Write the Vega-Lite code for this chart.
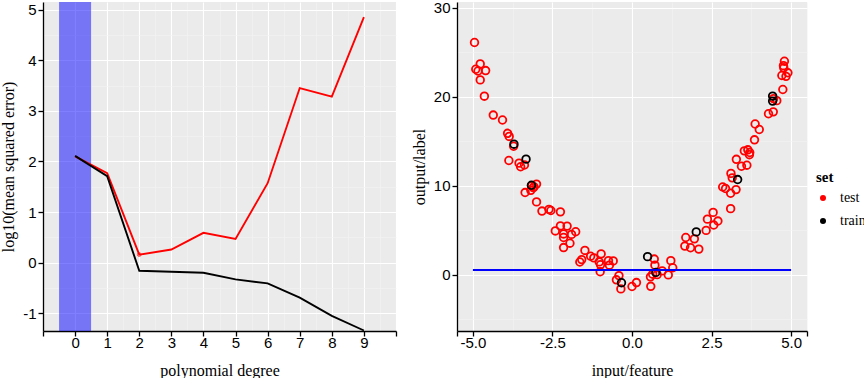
{
  "$schema": "https://vega.github.io/schema/vega-lite/v6.json",
  "padding": {"left": 0, "top": 0, "right": 0, "bottom": 0},
  "background": "white",
  "resolve": {"scale": {"color": "independent"}, "legend": {"color": "independent"}},
  "datasets": {
    "mse": [
      {"degree": 0, "set": "test", "mse": 2.1},
      {"degree": 1, "set": "test", "mse": 1.77},
      {"degree": 2, "set": "test", "mse": 0.16},
      {"degree": 3, "set": "test", "mse": 0.26},
      {"degree": 4, "set": "test", "mse": 0.59},
      {"degree": 5, "set": "test", "mse": 0.47},
      {"degree": 6, "set": "test", "mse": 1.57},
      {"degree": 7, "set": "test", "mse": 3.45},
      {"degree": 8, "set": "test", "mse": 3.28},
      {"degree": 9, "set": "test", "mse": 4.85},
      {"degree": 0, "set": "train", "mse": 2.11},
      {"degree": 1, "set": "train", "mse": 1.71},
      {"degree": 2, "set": "train", "mse": -0.16},
      {"degree": 3, "set": "train", "mse": -0.18},
      {"degree": 4, "set": "train", "mse": -0.2},
      {"degree": 5, "set": "train", "mse": -0.33},
      {"degree": 6, "set": "train", "mse": -0.41},
      {"degree": 7, "set": "train", "mse": -0.69},
      {"degree": 8, "set": "train", "mse": -1.05},
      {"degree": 9, "set": "train", "mse": -1.34}
    ],
    "points": [
      {"x": -4.95, "y": 26.1, "set": "test"},
      {"x": -4.77, "y": 23.7, "set": "test"},
      {"x": -4.91, "y": 23.1, "set": "test"},
      {"x": -4.84, "y": 22.9, "set": "test"},
      {"x": -4.6, "y": 22.95, "set": "test"},
      {"x": -4.77, "y": 21.9, "set": "test"},
      {"x": -4.64, "y": 20.07, "set": "test"},
      {"x": -4.36, "y": 17.95, "set": "test"},
      {"x": -4.07, "y": 17.4, "set": "test"},
      {"x": -3.91, "y": 15.9, "set": "test"},
      {"x": -3.86, "y": 15.55, "set": "test"},
      {"x": -3.72, "y": 14.45, "set": "test"},
      {"x": -3.87, "y": 12.85, "set": "test"},
      {"x": -3.55, "y": 12.55, "set": "test"},
      {"x": -3.5, "y": 12.15, "set": "test"},
      {"x": -3.38, "y": 12.35, "set": "test"},
      {"x": -3.16, "y": 10.0, "set": "test"},
      {"x": -3.1, "y": 9.8, "set": "test"},
      {"x": -3.0, "y": 10.2, "set": "test"},
      {"x": -3.08, "y": 9.9, "set": "test"},
      {"x": -3.18, "y": 9.5, "set": "test"},
      {"x": -3.36, "y": 9.25, "set": "test"},
      {"x": -3.0, "y": 8.2, "set": "test"},
      {"x": -2.83, "y": 7.17, "set": "test"},
      {"x": -2.61, "y": 7.36, "set": "test"},
      {"x": -2.55, "y": 7.23, "set": "test"},
      {"x": -2.25, "y": 7.08, "set": "test"},
      {"x": -2.41, "y": 4.94, "set": "test"},
      {"x": -2.25, "y": 5.5, "set": "test"},
      {"x": -2.04, "y": 5.48, "set": "test"},
      {"x": -2.15, "y": 4.6, "set": "test"},
      {"x": -2.15, "y": 4.2, "set": "test"},
      {"x": -1.95, "y": 3.56, "set": "test"},
      {"x": -2.15, "y": 3.07, "set": "test"},
      {"x": -1.9, "y": 4.55, "set": "test"},
      {"x": -1.77, "y": 4.85, "set": "test"},
      {"x": -1.48, "y": 2.75, "set": "test"},
      {"x": -1.58, "y": 1.72, "set": "test"},
      {"x": -1.64, "y": 1.45, "set": "test"},
      {"x": -1.3, "y": 2.1, "set": "test"},
      {"x": -1.2, "y": 1.91, "set": "test"},
      {"x": -0.97, "y": 2.36, "set": "test"},
      {"x": -1.03, "y": 1.46, "set": "test"},
      {"x": -0.99, "y": 1.14, "set": "test"},
      {"x": -0.74, "y": 1.6, "set": "test"},
      {"x": -0.59, "y": 1.57, "set": "test"},
      {"x": -0.71, "y": 1.09, "set": "test"},
      {"x": -1.0, "y": 0.35, "set": "test"},
      {"x": -0.41, "y": -0.08, "set": "test"},
      {"x": -0.49, "y": -0.55, "set": "test"},
      {"x": -0.35, "y": -1.57, "set": "test"},
      {"x": 0.0, "y": -1.3, "set": "test"},
      {"x": 0.14, "y": -0.86, "set": "test"},
      {"x": 0.58, "y": -0.22, "set": "test"},
      {"x": 0.65, "y": 0.08, "set": "test"},
      {"x": 0.79, "y": 0.03, "set": "test"},
      {"x": 0.59, "y": -1.28, "set": "test"},
      {"x": 0.7, "y": 1.78, "set": "test"},
      {"x": 0.72, "y": 1.09, "set": "test"},
      {"x": 0.95, "y": 0.45, "set": "test"},
      {"x": 1.14, "y": 0.0, "set": "test"},
      {"x": 1.22, "y": 1.6, "set": "test"},
      {"x": 1.28, "y": 0.8, "set": "test"},
      {"x": 1.69, "y": 4.2, "set": "test"},
      {"x": 1.66, "y": 3.24, "set": "test"},
      {"x": 1.84, "y": 3.05, "set": "test"},
      {"x": 1.96, "y": 4.05, "set": "test"},
      {"x": 2.1, "y": 2.9, "set": "test"},
      {"x": 2.33, "y": 5.0, "set": "test"},
      {"x": 2.37, "y": 6.26, "set": "test"},
      {"x": 2.55, "y": 7.02, "set": "test"},
      {"x": 2.7, "y": 6.05, "set": "test"},
      {"x": 2.57, "y": 5.6, "set": "test"},
      {"x": 2.85, "y": 9.87, "set": "test"},
      {"x": 2.94, "y": 9.7, "set": "test"},
      {"x": 3.1, "y": 9.17, "set": "test"},
      {"x": 3.1, "y": 7.44, "set": "test"},
      {"x": 3.27, "y": 9.58, "set": "test"},
      {"x": 3.11, "y": 11.4, "set": "test"},
      {"x": 3.15, "y": 10.9, "set": "test"},
      {"x": 3.28, "y": 12.98, "set": "test"},
      {"x": 3.44, "y": 12.2, "set": "test"},
      {"x": 3.61, "y": 12.32, "set": "test"},
      {"x": 3.53, "y": 13.93, "set": "test"},
      {"x": 3.64, "y": 14.05, "set": "test"},
      {"x": 3.7, "y": 13.75, "set": "test"},
      {"x": 3.69, "y": 13.5, "set": "test"},
      {"x": 3.85, "y": 15.17, "set": "test"},
      {"x": 3.87, "y": 16.95, "set": "test"},
      {"x": 4.0, "y": 16.33, "set": "test"},
      {"x": 4.29, "y": 18.1, "set": "test"},
      {"x": 4.44, "y": 18.31, "set": "test"},
      {"x": 4.55, "y": 19.57, "set": "test"},
      {"x": 4.45, "y": 19.8, "set": "test"},
      {"x": 4.74, "y": 20.82, "set": "test"},
      {"x": 4.71, "y": 22.4, "set": "test"},
      {"x": 4.84, "y": 22.3, "set": "test"},
      {"x": 4.9, "y": 22.7, "set": "test"},
      {"x": 4.77, "y": 23.26, "set": "test"},
      {"x": 4.76, "y": 23.5, "set": "test"},
      {"x": 4.79, "y": 24.0, "set": "test"},
      {"x": -3.71, "y": 14.68, "set": "train"},
      {"x": -3.33, "y": 13.0, "set": "train"},
      {"x": -3.16, "y": 10.07, "set": "train"},
      {"x": -0.33, "y": -0.88, "set": "train"},
      {"x": 0.49, "y": 2.05, "set": "train"},
      {"x": 0.75, "y": 0.28, "set": "train"},
      {"x": 2.02, "y": 4.83, "set": "train"},
      {"x": 3.32, "y": 10.71, "set": "train"},
      {"x": 4.42, "y": 20.08, "set": "train"},
      {"x": 4.42, "y": 19.52, "set": "train"}
    ],
    "fit": [
      {"x": -5, "y": 0.55},
      {"x": 5, "y": 0.55}
    ],
    "band": [
      {"lo": -0.5, "hi": 0.5}
    ],
    "best": [
      {"degree": 2, "mse": 0.16}
    ]
  },
  "config": {
    "view": {"fill": "#ebebeb", "stroke": null},
    "axis": {
      "labelFont": "Liberation Sans",
      "labelFontSize": 15,
      "labelColor": "black",
      "labelPadding": 2,
      "labelOverlap": false,
      "labelFlush": false,
      "tickCount": 100,
      "titleFont": "Liberation Serif",
      "titleFontSize": 16,
      "titleFontWeight": "normal",
      "titleColor": "black",
      "titlePadding": 6,
      "domainColor": "black",
      "domainWidth": 1.3,
      "tickColor": "black",
      "tickSize": 5,
      "tickWidth": 1.3
    },
    "axisX": {"labelPadding": -1, "titlePadding": 12},
    "concat": {"spacing": 14}
  },
  "hconcat": [
    {
      "width": 353,
      "height": 329,
      "layer": [
        {
          "data": {"name": "band"},
          "mark": {"type": "rect", "color": "#0000ff", "opacity": 0.5},
          "encoding": {
            "x": {
              "field": "lo", "type": "quantitative",
              "scale": {"domain": [-1, 10], "nice": false, "zero": false},
              "title": "polynomial degree",
              "axis": {
                "values": [-1, -0.5, 0, 0.5, 1, 1.5, 2, 2.5, 3, 3.5, 4, 4.5, 5, 5.5, 6, 6.5, 7, 7.5, 8, 8.5, 9, 9.5, 10],
                "tickCount": 100,
                "labelOverlap": false,
                "labelExpr": "(datum.value % 1 === 0 && datum.value >= 0 && datum.value <= 9) ? format(datum.value, 'd') : ''",
                "gridColor": {"condition": {"test": "datum.value % 1 === 0", "value": "#ffffff"}, "value": "#f4f4f4"},
                "gridWidth": {"condition": {"test": "datum.value % 1 === 0", "value": 1.1}, "value": 0.6},
                "tickOpacity": {"condition": {"test": "datum.value % 1 === 0", "value": 1}, "value": 0}
              }
            },
            "x2": {"field": "hi"}
          }
        },
        {
          "data": {"name": "mse"},
          "mark": {"type": "line", "strokeWidth": 1.9},
          "encoding": {
            "x": {"field": "degree", "type": "quantitative", "title": "polynomial degree"},
            "y": {
              "field": "mse", "type": "quantitative",
              "scale": {"domain": [-1.35, 5.15], "nice": false, "zero": false},
              "title": "log10(mean squared error)",
              "axis": {
                "values": [-1, -0.5, 0, 0.5, 1, 1.5, 2, 2.5, 3, 3.5, 4, 4.5, 5],
                "tickCount": 100,
                "labelOverlap": false,
                "labelExpr": "datum.value % 1 === 0 ? (datum.value < 0 ? '-' : '') + format(abs(datum.value), 'd') : ''",
                "gridColor": {"condition": {"test": "datum.value % 1 === 0", "value": "#ffffff"}, "value": "#f4f4f4"},
                "gridWidth": {"condition": {"test": "datum.value % 1 === 0", "value": 1.1}, "value": 0.6},
                "tickOpacity": {"condition": {"test": "datum.value % 1 === 0", "value": 1}, "value": 0}
              }
            },
            "color": {
              "field": "set", "type": "nominal",
              "scale": {"domain": ["test", "train"], "range": ["#ff0000", "#000000"]},
              "legend": null
            }
          }
        },
        {
          "data": {"name": "best"},
          "mark": {"type": "point", "filled": false, "color": "#ff0000", "size": 14, "strokeWidth": 1},
          "encoding": {
            "x": {"field": "degree", "type": "quantitative", "title": "polynomial degree"},
            "y": {"field": "mse", "type": "quantitative", "title": "log10(mean squared error)"}
          }
        }
      ]
    },
    {
      "width": 350,
      "height": 329,
      "layer": [
        {
          "data": {"name": "points"},
          "mark": {"type": "point", "filled": true, "fillOpacity": 0, "size": 58, "strokeWidth": 1.8, "opacity": 1},
          "encoding": {
            "x": {
              "field": "x", "type": "quantitative",
              "scale": {"domain": [-5.5, 5.5], "nice": false, "zero": false},
              "title": "input/feature",
              "axis": {
                "values": [-5.5, -5, -3.75, -2.5, -1.25, 0, 1.25, 2.5, 3.75, 5, 5.5],
                "tickCount": 100,
                "labelOverlap": false,
                "labelExpr": "datum.value % 2.5 === 0 ? (datum.value < 0 ? '-' : '') + format(abs(datum.value), '.1f') : ''",
                "gridColor": {"condition": {"test": "datum.value % 2.5 === 0", "value": "#ffffff"}, "value": "#f4f4f4"},
                "gridWidth": {"condition": {"test": "datum.value % 2.5 === 0", "value": 1.1}, "value": 0.6},
                "tickOpacity": {"condition": {"test": "datum.value % 2.5 === 0 || abs(datum.value) === 5.5", "value": 1}, "value": 0}
              }
            },
            "y": {
              "field": "y", "type": "quantitative",
              "scale": {"domain": [-6.3, 30.65], "nice": false, "zero": false},
              "title": "output/label",
              "axis": {
                "values": [-5, 0, 5, 10, 15, 20, 25, 30],
                "tickCount": 100,
                "labelOverlap": false,
                "labelExpr": "datum.value % 10 === 0 ? format(datum.value, 'd') : ''",
                "gridColor": {"condition": {"test": "datum.value % 10 === 0", "value": "#ffffff"}, "value": "#f4f4f4"},
                "gridWidth": {"condition": {"test": "datum.value % 10 === 0", "value": 1.1}, "value": 0.6},
                "tickOpacity": {"condition": {"test": "datum.value % 10 === 0", "value": 1}, "value": 0}
              }
            },
            "color": {
              "field": "set", "type": "nominal",
              "scale": {"domain": ["test", "train"], "range": ["#ff0000", "#000000"]},
              "legend": {
                "title": "set",
                "orient": "none",
                "legendX": 359,
                "legendY": 168,
                "padding": 0,
                "titleFont": "Liberation Serif",
                "titleFontSize": 15,
                "titleFontWeight": "bold",
                "titleColor": "black",
                "titlePadding": 6,
                "labelFont": "Liberation Serif",
                "labelFontSize": 14,
                "labelColor": "black",
                "labelOffset": 10,
                "symbolType": "circle",
                "symbolSize": 36,
                "symbolStrokeWidth": 0,
                "rowPadding": 9
              }
            },
            "stroke": {
              "field": "set", "type": "nominal",
              "scale": {"domain": ["test", "train"], "range": ["#ff0000", "#000000"]},
              "legend": null
            }
          }
        },
        {
          "data": {"name": "fit"},
          "mark": {"type": "line", "color": "#0000ff", "strokeWidth": 2.2},
          "encoding": {
            "x": {"field": "x", "type": "quantitative", "title": "input/feature"},
            "y": {"field": "y", "type": "quantitative", "title": "output/label"}
          }
        }
      ]
    }
  ]
}
